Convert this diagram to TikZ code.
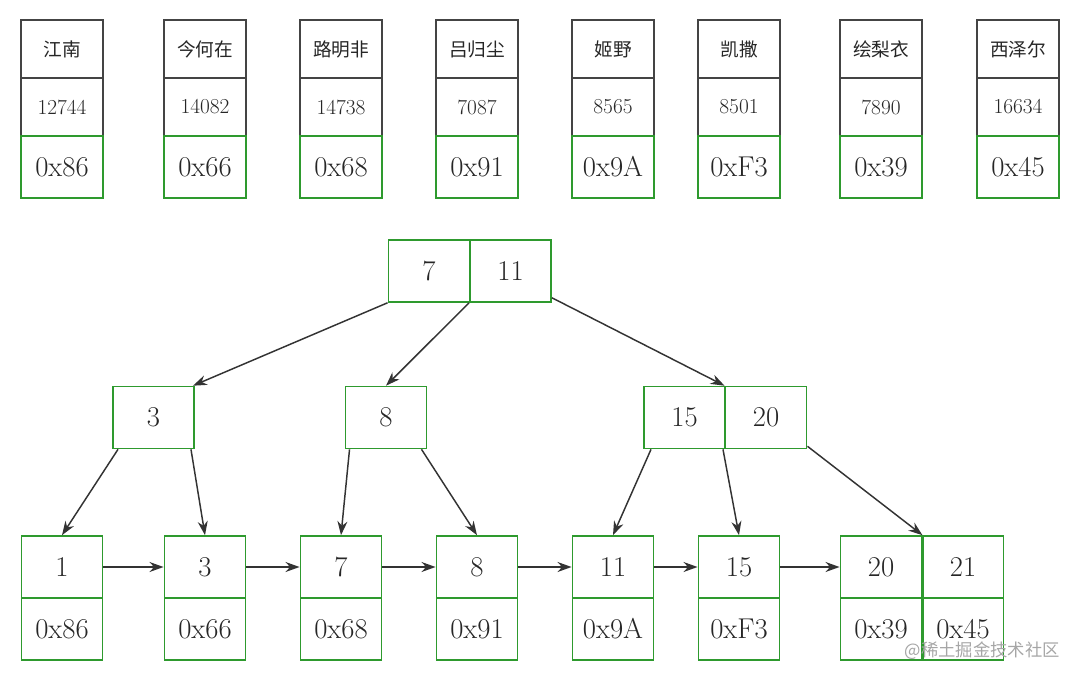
\documentclass[tikz,border=0pt]{standalone}
\usepackage{fontspec}
\newfontfamily\cjk{Noto Sans CJK SC}
\usetikzlibrary{arrows.meta,calc}
\definecolor{gbox}{HTML}{2E9A2E}
\definecolor{dbox}{HTML}{444444}
\definecolor{edge}{HTML}{333333}
\tikzset{
  x=0.75pt,y=-0.75pt,
  cell/.style={draw=dbox,line width=1.2pt,minimum width=61.5pt,minimum height=43.5pt,inner sep=0pt,text=black!85},
  hexcell/.style={draw=gbox,line width=1.2pt,minimum width=61.5pt,minimum height=46.5pt,inner sep=0pt,font=\fontsize{21.5}{24}\selectfont,text=black!85},
  keycell/.style={draw=gbox,line width=1.2pt,minimum width=61pt,minimum height=46.5pt,inner sep=0pt,font=\fontsize{21.5}{24}\selectfont,text=black!85},
  namefont/.style={font=\cjk\fontsize{14}{16}\selectfont},
  numfont/.style={font=\fontsize{16}{18}\selectfont},
  arr/.style={draw=edge,line width=1.1pt,-{Stealth[length=10.5pt,width=7.5pt]}},
}
\begin{document}
\begin{tikzpicture}
\useasboundingbox (0,0) rectangle (1080,681);
% top table
\foreach \i/\cx/\nm/\num/\hx in {1/62/江南/12744/0x86, 2/205/今何在/14082/0x66, 3/341/路明非/14738/0x68, 4/477/吕归尘/7087/0x91, 5/613/姬野/8565/0x9A, 6/739/凯撒/8501/0xF3, 7/881/绘梨衣/7890/0x39, 8/1018/西泽尔/16634/0x45}{
  \node[cell,namefont] (tn\i) at (\cx,49) {\nm};
  \node[cell,numfont] (tv\i) at (\cx,107) {\num};
  \node[hexcell] (th\i) at (\cx,167) {\hx};
}
% root
\node[keycell] (r7) at (429,271) {7};
\node[keycell] (r11) at (510.5,271) {11};
% level 2
\node[keycell] (m3) at (153.5,417.5) {3};
\node[keycell] (m8) at (386,417.5) {8};
\node[keycell] (m15) at (684.5,417.5) {15};
\node[keycell] (m20) at (766,417.5) {20};
% leaves
\foreach \i/\cx/\k/\hx in {1/62/1/0x86, 2/205/3/0x66, 3/341/7/0x68, 4/477/8/0x91, 5/613/11/0x9A, 6/739/15/0xF3, 7/881/20/0x39, 8/963/21/0x45}{
  \node[keycell] (lk\i) at (\cx,567) {\k};
  \node[keycell] (lh\i) at (\cx,629) {\hx};
}
\draw[gbox,line width=2.2pt] (lk7.north east) -- (lh7.south east);
% tree edges
\draw[arr] (r7.south west) -- ($(m3.north east)+(-2,0)$);
\draw[arr] (r11.south west) -- (m8.north);
\draw[arr] ($(r11.south east)+(0,-5)$) -- (m20.north west);
\draw[arr] ($(m3.south west)+(6,0)$) -- ($(lk1.north)$);
\draw[arr] ($(m3.south east)+(-4,0)$) -- (lk2.north);
\draw[arr] ($(m8.south west)+(5,0)$) -- (lk3.north);
\draw[arr] ($(m8.south east)+(-6,0)$) -- (lk4.north);
\draw[arr] ($(m15.south west)+(8,0)$) -- (lk5.north);
\draw[arr] ($(m15.south east)+(-3,0)$) -- (lk6.north);
\draw[arr] ($(m20.south east)+(0,-3)$) -- (lk7.north east);
% leaf links
\draw[arr] (lk1.east) -- (lk2.west);
\draw[arr] (lk2.east) -- (lk3.west);
\draw[arr] (lk3.east) -- (lk4.west);
\draw[arr] (lk4.east) -- (lk5.west);
\draw[arr] (lk5.east) -- (lk6.west);
\draw[arr] (lk6.east) -- (lk7.west);
% watermark
\node[anchor=east,inner sep=0pt,text=black!35,font=\cjk\fontsize{13}{15}\selectfont] (wm) at (1060,651) {@稀土掘金技术社区};
\end{tikzpicture}
\end{document}
